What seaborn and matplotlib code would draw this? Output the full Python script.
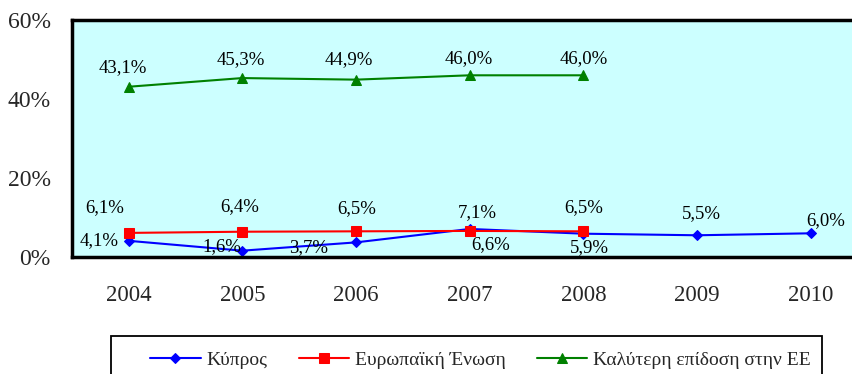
import matplotlib
matplotlib.use("Agg")
import matplotlib.pyplot as plt
from matplotlib.patches import Rectangle
import seaborn as sns
import numpy as np
import pandas as pd

years = ["2004", "2005", "2006", "2007", "2008", "2009", "2010"]
cyprus = [4.1, 1.6, 3.7, 7.1, 5.9, 5.5, 6.0]
eu = [6.1, 6.4, 6.5, 6.6, 6.5, None, None]
best = [43.1, 45.3, 44.9, 46.0, 46.0, None, None]
series_names = ["Κύπρος", "Ευρωπαϊκή Ένωση", "Καλύτερη επίδοση στην ΕΕ"]
y_ticks = [0, 20, 40, 60]

sns.set_theme(style="white")
plt.rcParams["font.family"] = ["Liberation Serif", "DejaVu Serif"]

rows = []
for name, vals in zip(series_names, [cyprus, eu, best]):
    for i, v in enumerate(vals):
        if v is not None:
            rows.append({"pos": i, "value": v, "series": name})
df = pd.DataFrame(rows)

colors = {series_names[0]: "#0000FF", series_names[1]: "#FF0000", series_names[2]: "#008000"}
markers = {series_names[0]: "D", series_names[1]: "s", series_names[2]: "^"}
msizes = {series_names[0]: 5.5, series_names[1]: 7, series_names[2]: 7.5}

W, H = 853, 374
fig = plt.figure(figsize=(W / 100, H / 100), dpi=100)
ax = fig.add_axes([71.7 / W, 1 - 257 / H, 796 / W, 237 / H])
ax.set_facecolor("#CCFFFF")

for name in series_names:
    sub = df[df["series"] == name]
    sns.lineplot(data=sub, x="pos", y="value", ax=ax, color=colors[name],
                 marker=markers[name], markersize=msizes[name],
                 markeredgecolor=colors[name], linewidth=1.5, label=name,
                 legend=False)

ax.set_xlim(-0.5, len(years) - 0.5)
ax.set_ylim(0, 60)
ax.set_yticks(y_ticks)
ax.set_yticklabels([f"{t}%" for t in y_ticks])
ax.set_xticks(np.arange(-0.5, len(years) + 0.5, 1.0))
ax.set_xticklabels([])
ax.set_xticks(np.arange(len(years)), minor=True)
ax.set_xticklabels(years, minor=True)
ax.tick_params(axis="x", which="major", direction="out", length=5, width=1.5, color="black")
ax.tick_params(axis="x", which="minor", length=0, pad=20, labelsize=16.5)
ax.tick_params(axis="y", direction="out", length=5, width=1.5, color="black",
               labelsize=17, pad=10)
ax.set_xlabel("")
ax.set_ylabel("")
for side in ["left", "top", "bottom"]:
    ax.spines[side].set_color("black")
    ax.spines[side].set_linewidth(2.5)
ax.spines["right"].set_visible(False)


def fmt(v):
    return f"{v:.1f}".replace(".", ",") + "%"


# label offsets in pixels (dx, dy) relative to each marker
off_cy = [(-29, 0), (-20, 4), (-47, -5), (8, 16), (6, -14), (4, 22), (15, 13)]
off_eu = [(-24, 25), (-3, 25), (1, 23), (21, -14), (0, 24)]
off_best = [(-6, 19), (-1, 18), (-7, 20), (-1, 17), (0, 17)]

for vals, offs in [(cyprus, off_cy), (eu, off_eu), (best, off_best)]:
    for i, (v, (dx, dy)) in enumerate(zip(vals, offs)):
        if v is None:
            continue
        ax.annotate(fmt(v), (i, v), xytext=(dx * 0.72, dy * 0.72),
                    textcoords="offset points", ha="center", va="center",
                    fontsize=13.5, color="black", annotation_clip=False)

# legend frame drawn as a figure rectangle, running past the bottom edge
fig.patches.append(Rectangle((111 / W, -0.1), (822 - 111) / W, 0.1 + (H - 336) / H,
                             transform=fig.transFigure, fill=False,
                             edgecolor="black", linewidth=1.3))

handles, labels = ax.get_legend_handles_labels()
leg = fig.legend(handles, labels, loc="center left",
                 bbox_to_anchor=(150 / W, 1 - 360 / H), ncol=3,
                 fontsize=14, frameon=False, borderpad=0, borderaxespad=0,
                 handlelength=2.6, columnspacing=1.6, handletextpad=0.3)

fig.savefig("out.png", dpi=100, facecolor="white")
